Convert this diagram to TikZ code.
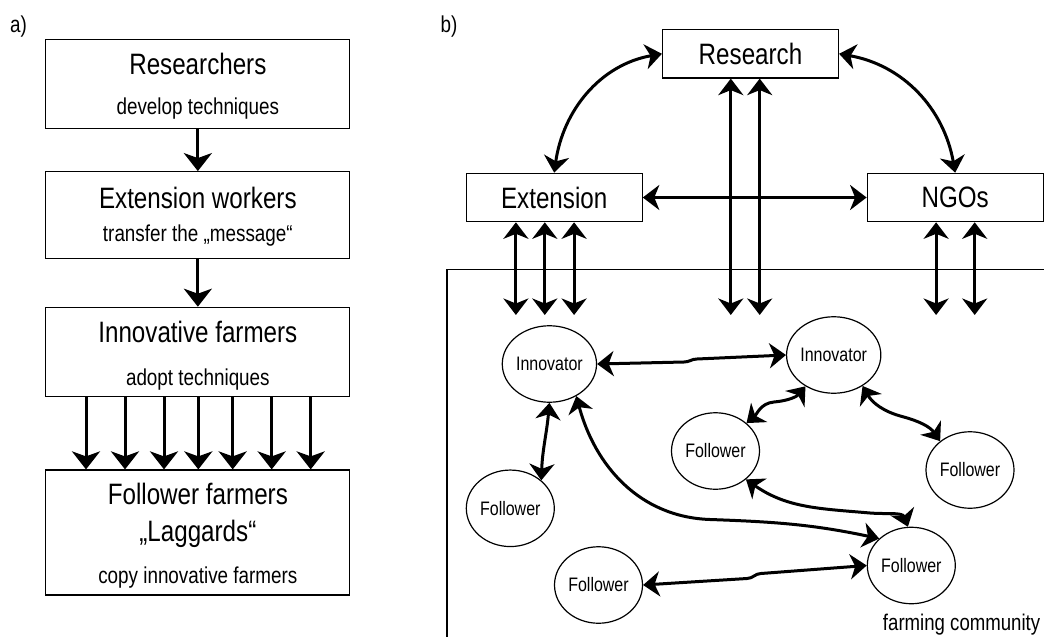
\documentclass[tikz,border=0pt]{standalone}
\usepackage{fontspec}
\setmainfont{Liberation Sans}[FakeStretch=0.82]
\usetikzlibrary{arrows.meta,shapes.geometric}
\begin{document}
\begin{tikzpicture}[x=1pt, y=-1pt,
  stage/.style={draw, line width=1.2pt, inner sep=0pt, minimum width=304pt},
  stagetitle/.style={anchor=base, inner sep=0pt, font=\fontsize{29.5}{34}\selectfont},
  stagenote/.style={anchor=base, inner sep=0pt, font=\fontsize{23}{27}\selectfont},
  actor/.style={draw, line width=1.2pt, inner sep=0pt, minimum width=176pt,
    minimum height=48.4pt, font=\fontsize{29.5}{34}\selectfont},
  farmer/.style={draw, ellipse, line width=1.2pt, inner sep=0pt, minimum width=88pt,
    minimum height=76.5pt, font=\fontsize{19.5}{23}\selectfont},
  panellabel/.style={anchor=base west, inner sep=0pt, font=\fontsize{23}{27}\selectfont},
  flow/.style={-{Stealth[length=18pt,width=28pt,inset=5pt]}, line width=3pt},
  link/.style={{Stealth[length=16.5pt,width=25pt,inset=5pt]}-{Stealth[length=16.5pt,width=25pt,inset=5pt]}, line width=3pt},
  frame/.style={line width=1.2pt}
]
\useasboundingbox (0,0) rectangle (1044,637);

% panel labels
\node[panellabel] (labA) at (10,32) {a)};
\node[panellabel] (labB) at (440.5,32) {b)};

% ---- a) linear transfer chain ----
\node[stage, minimum height=89pt] (researchers) at (197.85,83.8) {};
\node[stagetitle] (researchersT) at (197.85,74.3) {Researchers};
\node[stagenote] (researchersN) at (197.85,114) {develop techniques};

\node[stage, minimum height=86.6pt] (extworkers) at (197.85,215) {};
\node[stagetitle] (extworkersT) at (197.85,208) {Extension workers};
\node[stagenote] (extworkersN) at (197.85,241.5) {transfer the „message“};

\node[stage, minimum height=89.4pt] (innovative) at (197.85,352) {};
\node[stagetitle] (innovativeT) at (197.85,342) {Innovative farmers};
\node[stagenote] (innovativeN) at (197.85,385.5) {adopt techniques};

\node[stage, minimum height=125pt] (followers) at (197.85,532.5) {};
\node[stagetitle] (followersT) at (197.85,504.5) {Follower farmers};
\node[stagetitle] (followersL) at (197.85,541.5) {„Laggards“};
\node[stagenote] (followersN) at (197.85,583.3) {copy innovative farmers};

\draw[flow] (researchers.south) -- (extworkers.north);
\draw[flow] (extworkers.south) -- (innovative.north);
\foreach \x in {86,125,164,198.3,232.7,271.7,310.7}
  \draw[flow] (innovative.south -| \x,0) -- (followers.north -| \x,0);

% ---- b) network of actors ----
\coordinate (commcorner) at (446.9,269.3);
\draw[frame] (commcorner |- 0,640) -- (commcorner) -- (commcorner -| 1050,0);
\node[anchor=base, inner sep=0pt, font=\fontsize{22.7}{26}\selectfont] (community) at (961.6,630) {farming community};

\node[actor] (res) at (750.5,53.8) {Research};
\node[actor] (ext) at (554.2,197.5) {Extension};
\node[actor] (ngo) at (955.2,197.5) {NGOs};

\draw[link] (res.west) to[out=190,in=82] (ext.north);
\draw[link] (res.east) to[out=-10,in=100] (ngo.north);
\draw[link] (ext.east) -- (ngo.west);

\coordinate (rdrop1) at (730.8,315);
\coordinate (rdrop2) at (759.7,315);
\coordinate (edrop1) at (515.9,315);
\coordinate (edrop2) at (544.8,315);
\coordinate (edrop3) at (574.1,315);
\coordinate (ndrop1) at (936.1,315);
\coordinate (ndrop2) at (974.7,315);
\foreach \d in {rdrop1,rdrop2} \draw[link] (res.south -| \d) -- (\d);
\foreach \d in {edrop1,edrop2,edrop3} \draw[link] (ext.south -| \d) -- (\d);
\foreach \d in {ndrop1,ndrop2} \draw[link] (ngo.south -| \d) -- (\d);

% farmers
\node[farmer] (i1) at (549.4,364) {Innovator};
\node[farmer] (i2) at (833.7,355) {Innovator};
\node[farmer] (fm) at (715.5,451) {Follower};
\node[farmer] (fr) at (970,470) {Follower};
\node[farmer] (fl) at (510.3,508.3) {Follower};
\node[farmer] (fbl) at (598.5,585) {Follower};
\node[farmer] (fbr) at (911.3,565.5) {Follower};

\coordinate (w1) at (684,362);
\coordinate (w2) at (697,359);
\draw[link] (i1.east) -- (w1) to[out=0,in=180] (w2) -- (i2.west);

\draw[link] (i1.south) to[out=-95,in=88] (fl.42);

\coordinate (w8) at (710,519.5);
\draw[link] (i1.-50) to[out=-75,in=178] (w8) to[out=-2,in=168] (fbr.140);

\coordinate (w5) at (774,402);
\draw[link] (i2.228) to[out=230,in=5] (w5) to[out=185,in=40] (fm.42);

\coordinate (w6) at (902,416.5);
\draw[link] (i2.-47) to[out=-60,in=165] (w6) to[out=-15,in=125] (fr.136);

\coordinate (w7) at (870,513);
\draw[link] (fm.-43) to[out=-35,in=175] (w7) to[out=-5,in=110] (fbr.95);

\coordinate (w3) at (747,578.5);
\coordinate (w4) at (761,573.5);
\draw[link] (fbl.east) -- (w3) to[out=0,in=180] (w4) -- (fbr.west);
\end{tikzpicture}
\end{document}
